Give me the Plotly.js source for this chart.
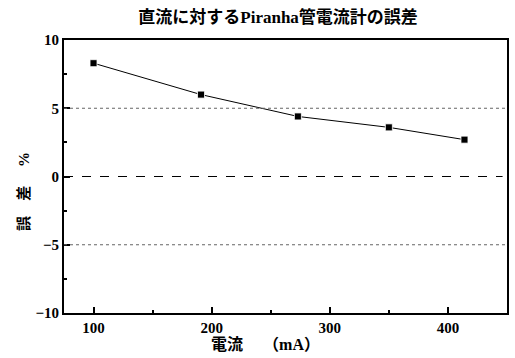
<!DOCTYPE html>
<html><head><meta charset="utf-8">
<script src="https://cdn.plot.ly/plotly-3.0.1.min.js"></script>
<style>html,body{margin:0;padding:0;background:#fff}#c{width:515px;height:358px}</style>
</head><body><div id="c"></div>
<script>
const currentMA = [100, 191, 273, 350, 414];
const errorPct = [8.3, 6.0, 4.4, 3.6, 2.7];
const titleText = '直流に対するPiranha管電流計の誤差';
const xTitle = '電流　 （mA）　　　';
const yTitle = '誤　差　 %　　';
const refDotted = [5, -5];
const refDashed = [0];

const F = '"Liberation Serif", "Noto Sans CJK JP", serif';
const shapes = [];
refDotted.forEach(v => shapes.push({type:'line', xref:'paper', x0:0, x1:1, yref:'y', y0:v, y1:v, line:{color:'#666', width:1.2, dash:'dot'}}));
refDashed.forEach(v => shapes.push({type:'line', xref:'paper', x0:0, x1:0.99, yref:'y', y0:v, y1:v, line:{color:'#000', width:1, dash:'dash'}}));

Plotly.newPlot('c', [{
  x: currentMA, y: errorPct, type:'scatter', mode:'lines+markers',
  line:{color:'#000', width:1},
  marker:{symbol:'square', size:7, color:'#000', line:{color:'#fff', width:0.8}}
}], {
  width:515, height:358,
  margin:{l:64, r:8, t:40, b:45},
  paper_bgcolor:'#fff', plot_bgcolor:'#fff',
  showlegend:false,
  title:{text:'<b>'+titleText+'</b>', x:0.54, xanchor:'center', y:0.953, yanchor:'middle', font:{family:F, size:17, color:'#000'}},
  xaxis:{range:[75,450], dtick:100, tick0:0, ticks:'inside', ticklen:6, tickwidth:2, tickcolor:'#000',
    minor:{dtick:50, ticks:'inside', ticklen:3, tickwidth:2, tickcolor:'#000'},
    showline:true, linewidth:2, linecolor:'#000', mirror:true, showgrid:false, zeroline:false,
    tickfont:{family:F, size:15, color:'#000', weight:'bold'},
    title:{text:'<b>'+xTitle+'</b>', font:{family:F, size:16, color:'#000'}, standoff:2}},
  yaxis:{range:[-10,10], dtick:5, ticks:'inside', ticklen:6, tickwidth:2, tickcolor:'#000',
    minor:{dtick:2.5, ticks:'inside', ticklen:3, tickwidth:2, tickcolor:'#000'},
    showline:true, linewidth:2, linecolor:'#000', mirror:true, showgrid:false, zeroline:false,
    tickfont:{family:F, size:15, color:'#000', weight:'bold'},
    title:{text:'<b>'+yTitle+'</b>', font:{family:F, size:15, color:'#000'}, standoff:2}},
  shapes: shapes
}, {staticPlot:true});
</script></body></html>
